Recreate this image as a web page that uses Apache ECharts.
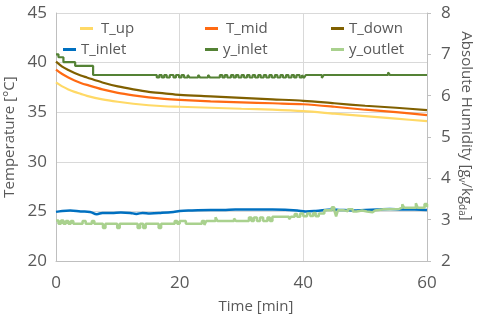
<!DOCTYPE html>
<html>
<head>
<meta charset="utf-8">
<script src="https://cdn.jsdelivr.net/npm/echarts@6/dist/echarts.min.js"></script>
<style>
  html, body { margin: 0; padding: 0; background: #fff; }
  #chart { width: 480px; height: 321px; }
</style>
</head>
<body>
<div id="chart"></div>
<script>
// time axis for the three temperature curves [min]
const tempTime = [0, 1, 2, 3, 4, 5, 7.5, 10, 12.5, 15, 17.5, 20, 25, 30, 35, 40, 45, 50, 55, 60];
const tUp   = [38.0, 37.6, 37.3, 37.05, 36.85, 36.65, 36.3, 36.05, 35.85, 35.7, 35.6, 35.55, 35.45, 35.35, 35.25, 35.1, 34.85, 34.6, 34.35, 34.1];
const tMid  = [39.3, 38.85, 38.5, 38.2, 37.95, 37.75, 37.3, 36.95, 36.7, 36.5, 36.35, 36.25, 36.1, 36.0, 35.9, 35.8, 35.55, 35.25, 35.0, 34.7];
const tDown = [40.1, 39.6, 39.25, 38.95, 38.7, 38.5, 38.0, 37.6, 37.3, 37.05, 36.9, 36.75, 36.6, 36.45, 36.3, 36.15, 35.9, 35.65, 35.45, 35.2];

// inlet temperature
const inletTime = [0, 1, 2.3, 4, 5.5, 6.6, 7.5, 9, 10.5, 12, 13, 14, 15.2, 17, 19, 20, 22, 25, 27, 29, 31, 33, 35, 37.7, 39, 40.4, 42, 44.7, 46, 48, 50, 52, 54, 56, 58, 60];
const tInlet = [24.95, 25.05, 25.1, 25.0, 24.95, 24.72, 24.85, 24.85, 24.9, 24.85, 24.75, 24.85, 24.8, 24.85, 24.95, 25.05, 25.1, 25.15, 25.15, 25.2, 25.2, 25.2, 25.2, 25.15, 25.1, 25.0, 25.05, 25.2, 25.15, 25.1, 25.15, 25.2, 25.25, 25.2, 25.2, 25.15];

// absolute humidity, inlet (step signal)
const yInTime = [0, 0.4, 1.2, 3.1, 6.0, 16.3, 16.7, 17.1, 17.5, 17.9, 18.4, 19.0, 19.4, 19.9, 20.3, 20.7, 21.3, 21.6, 23.0, 23.3, 24.6, 24.9, 26.5, 26.9, 27.3, 27.7, 28.3, 28.7, 29.1, 29.5, 30.0, 30.4, 30.9, 31.3, 31.8, 32.2, 32.7, 33.1, 33.6, 34.0, 34.5, 34.9, 35.4, 35.8, 36.3, 36.7, 37.2, 37.6, 38.1, 38.5, 38.9, 39.4, 39.8, 40.1, 40.4, 43.0, 43.3, 53.7, 54.0, 60];
const yInlet  = [7.0, 6.93, 6.81, 6.72, 6.5, 6.44, 6.5, 6.44, 6.5, 6.44, 6.5, 6.44, 6.5, 6.44, 6.5, 6.44, 6.5, 6.44, 6.5, 6.44, 6.5, 6.44, 6.5, 6.44, 6.5, 6.44, 6.5, 6.44, 6.5, 6.44, 6.5, 6.44, 6.5, 6.44, 6.5, 6.44, 6.5, 6.44, 6.5, 6.44, 6.5, 6.44, 6.5, 6.44, 6.5, 6.44, 6.5, 6.44, 6.5, 6.44, 6.5, 6.44, 6.5, 6.43, 6.5, 6.43, 6.5, 6.56, 6.5, 6.5];

// absolute humidity, outlet (step signal)
const yOutTime = [0, 0.4, 0.8, 1.2, 1.6, 2.0, 2.4, 2.8, 4.3, 4.8, 5.8, 6.2, 7.6, 8.0, 9.9, 10.3, 13.2, 13.6, 14.1, 14.5, 16.6, 17.0, 19.2, 19.6, 20.0, 21.0, 23.6, 24.0, 24.3, 25.8, 26.1, 28.8, 29.1, 31.2, 31.6, 32.0, 32.5, 33.0, 33.5, 34.2, 34.6, 35.0, 37.7, 38.0, 38.6, 39.0, 39.5, 40.0, 40.6, 41.1, 41.6, 42.0, 42.5, 43.4, 44.6, 45.0, 45.3, 45.6, 46.5, 47.2, 48.0, 48.6, 49.5, 50.3, 51.2, 51.6, 53.0, 55.5, 56.0, 56.3, 58.2, 58.5, 59.6, 60];
const yOutlet  = [2.98, 2.9, 2.98, 2.9, 2.97, 2.9, 2.97, 2.9, 2.97, 2.9, 2.97, 2.9, 2.8, 2.9, 2.8, 2.9, 2.8, 2.9, 2.8, 2.9, 2.8, 2.9, 2.97, 2.9, 2.97, 2.9, 2.97, 2.87, 2.97, 3.06, 2.97, 3.03, 2.97, 3.05, 2.97, 3.05, 2.97, 3.05, 2.97, 3.05, 2.97, 3.07, 3.01, 3.07, 3.14, 3.07, 3.15, 3.08, 3.15, 3.09, 3.16, 3.08, 3.15, 3.23, 3.3, 3.23, 3.08, 3.23, 3.2, 3.25, 3.2, 3.22, 3.2, 3.18, 3.22, 3.25, 3.26, 3.29, 3.37, 3.29, 3.4, 3.29, 3.38, 3.3];

const xTicks = { min: 0, max: 60, interval: 20 };
const tempTicks = { min: 20, max: 45, interval: 5 };
const humTicks = { min: 2, max: 8, interval: 1 };

const FONT = 'Open Sans';
const GREY = '#595959';

// pair a time array with a value array
const pairs = (t, v) => t.map((x, i) => [x, v[i]]);

const lineSeries = (name, color, t, v, extra) => Object.assign({
  name: name,
  type: 'line',
  data: pairs(t, v),
  showSymbol: false,
  symbol: 'none',
  lineStyle: { color: color, width: 2.2 },
  itemStyle: { color: color },
  animation: false
}, extra || {});

// one legend per entry so each one can sit where the original had it
const legendAt = (name, left, top, gap) => ({
  data: [name],
  left: left,
  top: top,
  icon: 'rect',
  itemWidth: 13,
  itemHeight: 3,
  itemGap: 0,
  textStyle: { fontFamily: FONT, fontSize: 15, color: GREY, padding: [0, 0, 0, gap] }
});

const option = {
  backgroundColor: '#fff',
  animation: false,
  grid: { left: 56, right: 53, top: 13, bottom: 60 },
  legend: [
    legendAt('T_up', 75, 16, 3),
    legendAt('T_mid', 200, 16, 3),
    legendAt('T_down', 326, 16, 0),
    legendAt('T_inlet', 58, 37, 0),
    legendAt('y_inlet', 200, 37, 0),
    legendAt('y_outlet', 326, 37, 0)
  ],
  xAxis: {
    type: 'value',
    min: xTicks.min, max: xTicks.max, interval: xTicks.interval,
    axisLine: { show: true, lineStyle: { color: '#BFBFBF' } },
    axisTick: { show: false },
    axisLabel: { fontFamily: FONT, fontSize: 17, color: GREY, margin: 14 },
    splitLine: { show: true, lineStyle: { color: '#D9D9D9' } }
  },
  yAxis: [
    {
      type: 'value',
      min: tempTicks.min, max: tempTicks.max, interval: tempTicks.interval,
      axisLine: { show: true, lineStyle: { color: '#BFBFBF' } },
      axisTick: { show: false },
      axisLabel: { fontFamily: FONT, fontSize: 17, color: GREY, margin: 9 },
      splitLine: { show: true, lineStyle: { color: '#D9D9D9' } }
    },
    {
      type: 'value',
      position: 'right',
      min: humTicks.min, max: humTicks.max, interval: humTicks.interval,
      axisLine: { show: true, lineStyle: { color: '#BFBFBF' } },
      axisTick: { show: true, length: 4, lineStyle: { color: '#BFBFBF' } },
      axisLabel: { fontFamily: FONT, fontSize: 17, color: GREY, margin: 14 },
      splitLine: { show: false }
    }
  ],
  graphic: [
    {
      type: 'text', x: 10, y: 137, rotation: Math.PI / 2,
      style: { text: 'Temperature [°C]', font: '15px "Open Sans"', fill: GREY, align: 'center', verticalAlign: 'middle' }
    },
    {
      type: 'text', x: 256, y: 307,
      style: { text: 'Time [min]', font: '15px "Open Sans"', fill: GREY, align: 'center', verticalAlign: 'middle' }
    },
    {
      type: 'text', x: 466, y: 126, rotation: -Math.PI / 2,
      style: {
        text: 'Absolute Humidity [g{s|v}/kg{s|da}]',
        font: '15px "Open Sans"', fill: GREY, align: 'center', verticalAlign: 'middle',
        rich: { s: { fontSize: 10, fontFamily: FONT, fill: GREY, verticalAlign: 'bottom', lineHeight: 18, padding: [6, 0, 0, 0] } }
      }
    }
  ],
  series: [
    lineSeries('T_up', '#FFD966', tempTime, tUp, { smooth: 0.3 }),
    lineSeries('T_mid', '#FF6A13', tempTime, tMid, { smooth: 0.3 }),
    lineSeries('T_down', '#806000', tempTime, tDown, { smooth: 0.3 }),
    lineSeries('T_inlet', '#0070C0', inletTime, tInlet, { smooth: 0.4, lineStyle: { color: '#0070C0', width: 2.5 } }),
    lineSeries('y_inlet', '#548235', yInTime, yInlet, { yAxisIndex: 1, step: 'end' }),
    lineSeries('y_outlet', '#A9D18E', yOutTime, yOutlet, { yAxisIndex: 1, step: 'end', lineStyle: { color: '#A9D18E', width: 2.5 } })
  ]
};

const chart = echarts.init(document.getElementById('chart'));
chart.setOption(option);
</script>
</body>
</html>
